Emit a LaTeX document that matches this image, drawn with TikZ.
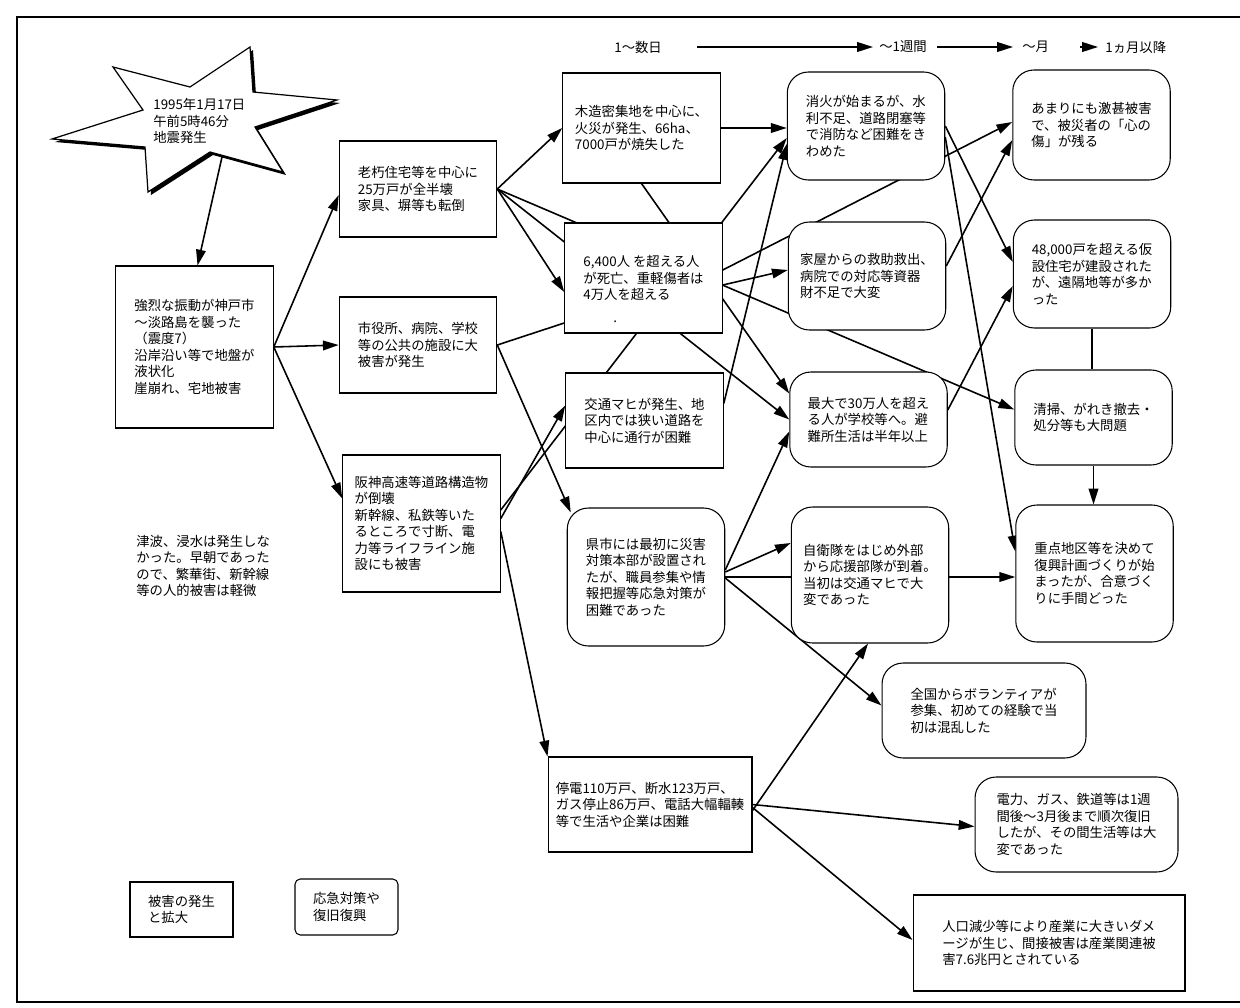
\documentclass[tikz,border=0pt]{standalone}
\usepackage{fontspec}
\setmainfont{Noto Sans CJK JP}
\usetikzlibrary{arrows.meta, positioning, calc}
\pgfdeclarelayer{bg}
\pgfsetlayers{bg,main}

\begin{document}
\begin{tikzpicture}[
        x=0.02cm, y=-0.02cm,
        every node/.style={font=\fontsize{7.6}{9.4}\selectfont},
        block/.style={rectangle, draw, line width=0.6pt, fill=white, align=left, minimum width=3.15cm, minimum height=1.9cm},
        roundblock/.style={block, rounded corners=12pt},
        note/.style={align=left, inner sep=0pt, anchor=west},
        line/.style={draw, line width=0.9pt, -{Triangle[length=9pt, width=5.5pt]}},
        link/.style={draw, line width=0.9pt}
    ]
    \useasboundingbox (0,0) rectangle (1240,1007);
    \draw [line width=0.8pt] (1240,17) -- (17,17) -- (17,1002) -- (1240,1002);

    \fill [shift={(3,3)}] (113,67) -- (190,87) -- (250,47) -- (253,92) -- (337,100) -- (255,127) -- (283,172) -- (210,152) -- (148,192) -- (145,147) -- (52,139) -- (143,110) -- cycle;
    \draw [fill=white, line width=0.7pt] (113,67) -- (190,87) -- (250,47) -- (253,92) -- (337,100) -- (255,127) -- (283,172) -- (210,152) -- (148,192) -- (145,147) -- (52,139) -- (143,110) -- cycle;
    \node [note] (quake) at (153,121) {1995年1月17日\\午前5時46分\\地震発生};
    \coordinate (quaketip) at (222,157);

    \node [note] (d1) at (614,47) {1〜数日};
    \node [note] (d2) at (879,47) {〜1週間};
    \node [note] (d3) at (1022,47) {〜月};
    \node [note] (d4) at (1105,47) {1ヵ月以降};

    \node [block, minimum height=3.24cm] (shindo) at (194.5,347) {強烈な振動が神戸市\\〜淡路島を襲った\\（震度7）\\沿岸沿い等で地盤が\\液状化\\崖崩れ、宅地被害};
    \node [block, minimum height=1.92cm] (rokyu) at (418,189) {老朽住宅等を中心に\\25万戸が全半壊\\家具、塀等も転倒};
    \node [block, minimum height=1.92cm] (shiyaku) at (418,345) {市役所、病院、学校\\等の公共の施設に大\\被害が発生};
    \node [block, minimum height=2.74cm] (hanshin) at (421.5,523.5) {阪神高速等道路構造物\\が倒壊\\新幹線、私鉄等いた\\るところで寸断、電\\力等ライフライン施\\設にも被害};
    \node [note] (tsunami) at (136,566) {津波、浸水は発生しな\\かった。早朝であった\\ので、繁華街、新幹線\\等の人的被害は軽微};

    \node [block, minimum height=2.2cm] (mokuzo) at (641.5,128) {木造密集地を中心に、\\火災が発生、66ha、\\7000戸が焼失した};
    \node [block, minimum height=2.2cm] (shisha) at (643.5,278) {6,400人 を超える人\\が死亡、重軽傷者は\\\rlap{\smash{\raisebox{-13pt}{\hspace{17pt}.}}}4万人を超える};
    \node [block] (kotsu) at (644.5,420.5) {交通マヒが発生、地\\区内では狭い道路を\\中心に通行が困難};
    \node [roundblock, minimum height=2.76cm] (kenshi) at (646,577) {県市には最初に災害\\対策本部が設置され\\たが、職員参集や情\\報把握等応急対策が\\困難であった};
    \node [block, minimum width=4.08cm] (teiden) at (650,804.5) {停電110万戸、断水123万戸、\\ガス停止86万戸、電話大幅輻輳\\等で生活や企業は困難};

    \node [roundblock, minimum height=2.16cm] (shoka) at (866,126) {消火が始まるが、水\\利不足、道路閉塞等\\で消防など困難をき\\わめた};
    \node [roundblock, minimum height=2.16cm] (kaoku) at (867,276) {家屋からの救助救出、\\病院での対応等資器\\財不足で大変};
    \node [roundblock] (saidai) at (868.5,419.5) {最大で30万人を超え\\る人が学校等へ。避\\難所生活は半年以上};
    \node [roundblock, minimum height=2.72cm] (jieitai) at (870,575) {自衛隊をはじめ外部\\から応援部隊が到着。\\当初は交通マヒで大\\変であった};
    \node [roundblock, minimum width=4.08cm] (zenkoku) at (984,710.5) {全国からボランティアが\\参集、初めての経験で当\\初は混乱した};

    \node [roundblock, minimum height=2.2cm] (amari) at (1091.5,125) {あまりにも激甚被害\\で、被災者の「心の\\傷」が残る};
    \node [roundblock, minimum height=2.16cm] (kasetsu) at (1092,274) {48,000戸を超える仮\\設住宅が建設された\\が、遠隔地等が多か\\った};
    \node [roundblock] (seiso) at (1093.5,417.5) {清掃、がれき撤去・\\処分等も大問題};
    \node [roundblock, minimum height=2.74cm] (juten) at (1094.5,573.5) {重点地区等を決めて\\復興計画づくりが始\\まったが、合意づく\\りに手間どった};
    \node [roundblock, minimum width=4.06cm] (denryoku) at (1076.5,824.5) {電力、ガス、鉄道等は1週\\間後〜3月後まで順次復旧\\したが、その間生活等は大\\変であった};
    \node [block, minimum width=5.44cm, minimum height=1.92cm] (jinko) at (1049,943) {人口減少等により産業に大きいダメ\\ージが生じ、間接被害は産業関連被\\害7.6兆円とされている};

    \node [block, minimum width=2.06cm, minimum height=1.1cm] (kind1) at (181.5,909.5) {被害の発生\\と拡大};
    \node [block, rounded corners=3pt, minimum width=2.06cm, minimum height=1.12cm] (kind2) at (346.5,907) {応急対策や\\復旧復興};

    \begin{pgfonlayer}{bg}
    \path [line] ([shift={(35,0)}]d1.east) -- ([shift={(-6,0)}]d2.west);
    \path [line] ([shift={(10,0)}]d2.east) -- ([shift={(-9,0)}]d3.west);
    \path [line] ([shift={(31,0)}]d3.east) -- ([shift={(-7,0)}]d4.west);

    \path [line] (quaketip) -- ([shift={(3,0)}]shindo.north);
    \path [line] (shindo.east) -- ([shift={(0,6)}]rokyu.west);
    \path [line] (shindo.east) -- (shiyaku.west);
    \path [line] (shindo.east) -- ([shift={(0,-25)}]hanshin.west);

    \path [line] (rokyu.east) -- (mokuzo.west);
    \path [line] (rokyu.east) -- ([shift={(0,14)}]shisha.west);
    \path [line] (rokyu.east) -- (saidai.west);
    \path [line] (rokyu.east) -- ([shift={(0,-8)}]seiso.west);
    \path [link] (shiyaku.east) -- ([shift={(0,45)}]shisha.west);
    \path [line] (shiyaku.east) -- ([shift={(4,5)}]kenshi.north west);
    \path [line] ([shift={(0,-13.5)}]hanshin.east) -- ([shift={(0,12)}]shoka.west);
    \path [line] ([shift={(0,-5)}]hanshin.east) -- ([shift={(0,-15)}]kotsu.west);
    \path [line] ([shift={(0,8)}]hanshin.east) -- (teiden.north west);

    \path [line] (mokuzo.east) -- (mokuzo.east -| shoka.west);
    \path [line] (mokuzo.south) -- ([shift={(0,-26)}]saidai.west);
    \path [line] ([shift={(0,-8)}]shisha.east) -- ([shift={(0,-3)}]amari.west);
    \path [line] ([shift={(0,7)}]shisha.east) -- ([shift={(0,-6)}]kaoku.west);
    \path [line] ([shift={(0,-17)}]kotsu.east) -- ([shift={(0,18)}]shoka.west);
    \path [line] ([shift={(0,-7)}]kenshi.east) -- ([shift={(0,12)}]saidai.west);
    \path [line] ([shift={(0,-5)}]kenshi.east) -- ([shift={(0,-32)}]jieitai.west);
    \path [line] (kenshi.east) -- (kenshi.east -| juten.west);
    \path [line] ([shift={(0,1)}]kenshi.east) -- ([shift={(0,-5)}]zenkoku.west);
    \path [line] ([shift={(0,6)}]teiden.east) -- ([shift={(-2,0)}]jieitai.south);
    \path [line] (teiden.east) -- ([shift={(0,2)}]denryoku.west);
    \path [line] ([shift={(0,3)}]teiden.east) -- ([shift={(0,-3)}]jinko.west);

    \path [line] (shoka.east) -- ([shift={(0,-12)}]kasetsu.west);
    \path [line] ([shift={(0,11)}]shoka.east) -- ([shift={(0,-22)}]juten.west);
    \path [line] ([shift={(0,-10)}]kaoku.east) -- ([shift={(0,15)}]amari.west);
    \path [line] ([shift={(0,-9.5)}]saidai.east) -- ([shift={(0,12)}]kasetsu.west);
    \path [link] (kasetsu.south) -- (kasetsu.south |- seiso.north);
    \path [line] (seiso.south) -- (seiso.south |- juten.north);
    \end{pgfonlayer}
\end{tikzpicture}
\end{document}
